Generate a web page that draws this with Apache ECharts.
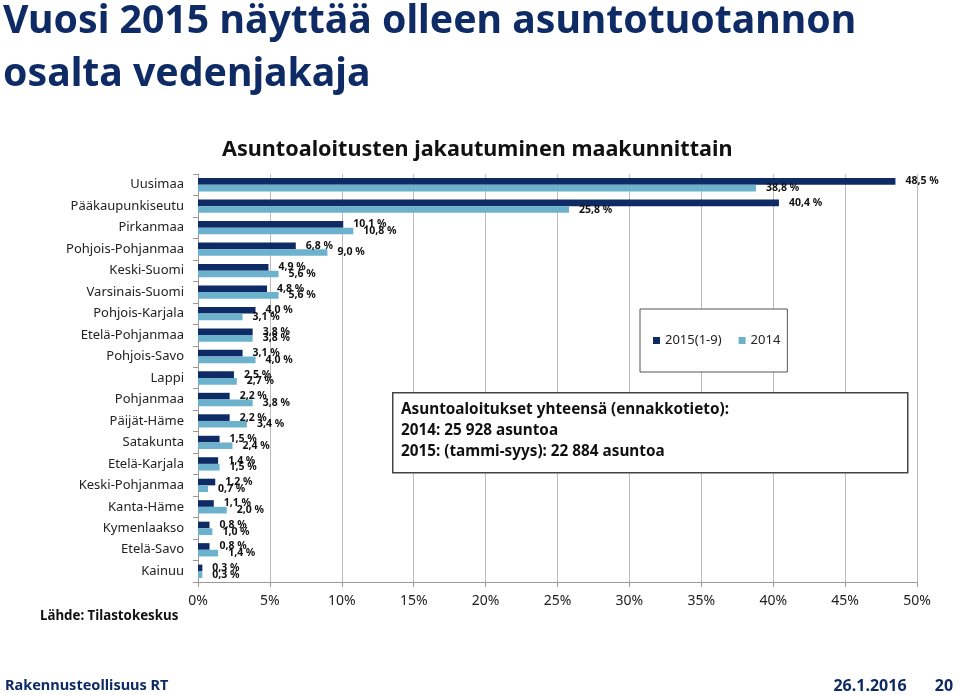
<!DOCTYPE html>
<html>
<head>
<meta charset="utf-8">
<script src="https://cdn.jsdelivr.net/npm/echarts@6/dist/echarts.min.js"></script>
<style>html,body{margin:0;padding:0;background:#fff}#c{width:960px;height:695px}</style>
</head>
<body>
<div id="c"></div>
<script>
var categories = ["Uusimaa","Pääkaupunkiseutu","Pirkanmaa","Pohjois-Pohjanmaa","Keski-Suomi","Varsinais-Suomi","Pohjois-Karjala","Etelä-Pohjanmaa","Pohjois-Savo","Lappi","Pohjanmaa","Päijät-Häme","Satakunta","Etelä-Karjala","Keski-Pohjanmaa","Kanta-Häme","Kymenlaakso","Etelä-Savo","Kainuu"];
var values2015 = [48.5,40.4,10.1,6.8,4.9,4.8,4.0,3.8,3.1,2.5,2.2,2.2,1.5,1.4,1.2,1.1,0.8,0.8,0.3];
var values2014 = [38.8,25.8,10.8,9.0,5.6,5.6,3.1,3.8,4.0,2.7,3.8,3.4,2.4,1.5,0.7,2.0,1.0,1.4,0.3];
var seriesNames = ["2015(1-9)","2014"];
var xTicks = {min:0, max:50, interval:5};

var navy = '#0f2b66', light = '#6cb2cd', font = 'Noto Sans';
function fmt(p){ return p.value.toFixed(1).replace('.', ',') + ' %'; }
var chart = echarts.init(document.getElementById('c'), null, {renderer:'canvas'});
chart.setOption({
  animation:false,
  textStyle:{fontFamily:font},
  grid:{left:198, right:43, top:174, bottom:113, containLabel:false},
  legend:{
    data:seriesNames, left:640, top:309, orient:'horizontal', z:50,
    padding:[25,7,25,13], itemWidth:7, itemHeight:7, itemGap:17,
    borderColor:'#555', borderWidth:1, backgroundColor:'#fff',
    textStyle:{fontFamily:font, fontSize:13, color:'#222'},
    icon:'rect'
  },
  xAxis:{type:'value', min:xTicks.min, max:xTicks.max, interval:xTicks.interval,
    axisLine:{show:true, lineStyle:{color:'#999'}},
    axisTick:{show:true, length:5, lineStyle:{color:'#999'}},
    splitLine:{show:true, lineStyle:{color:'#bbb', width:1}},
    axisLabel:{formatter:'{value}%', fontSize:14, color:'#222', margin:12, fontFamily:font}
  },
  yAxis:{type:'category', data:categories, inverse:true,
    axisLine:{show:true, lineStyle:{color:'#999'}},
    axisTick:{show:true, length:5, lineStyle:{color:'#999'}},
    axisLabel:{fontSize:13, color:'#222', margin:14, fontFamily:font}
  },
  series:[
    {name:seriesNames[0], type:'bar', data:values2015, barGap:'0%', barCategoryGap:'38%',
     itemStyle:{color:navy},
     label:{show:true, position:'right', distance:10, formatter:fmt, fontSize:10.5, fontWeight:'bold', color:'#111', fontFamily:font}},
    {name:seriesNames[1], type:'bar', data:values2014, barGap:'0%', barCategoryGap:'38%',
     itemStyle:{color:light},
     label:{show:true, position:'right', distance:10, formatter:fmt, fontSize:10.5, fontWeight:'bold', color:'#111', fontFamily:font}}
  ],
  graphic:[
    {type:'text', left:3, top:-5, z:100, style:{text:'Vuosi 2015 näyttää olleen asuntotuotannon\nosalta vedenjakaja', fill:navy, font:'bold 39.2px "Noto Sans"', lineHeight:53}},
    {type:'text', left:222, top:139, z:100, style:{text:'Asuntoaloitusten jakautuminen maakunnittain', fill:'#111', font:'bold 21.6px "Noto Sans"'}},
    {type:'rect', left:392, top:392, z:100, shape:{x:0,y:0,width:515,height:80}, style:{fill:'#fff', stroke:'#444', lineWidth:1.5}},
    {type:'text', left:401, top:399, z:101, style:{text:'Asuntoaloitukset yhteensä (ennakkotieto):\n2014: 25 928 asuntoa\n2015: (tammi-syys): 22 884 asuntoa', fill:'#111', font:'bold 15.3px "Noto Sans"', lineHeight:21}},
    {type:'text', left:40, top:610, z:100, style:{text:'Lähde: Tilastokeskus', fill:'#111', font:'bold 13.3px "Noto Sans"'}},
    {type:'text', left:5, top:678, z:100, style:{text:'Rakennusteollisuus RT', fill:navy, font:'bold 14.5px "Noto Sans"'}},
    {type:'text', x:870, y:678, z:100, style:{text:'26.1.2016', fill:navy, font:'bold 16px "Noto Sans"', align:'center'}},
    {type:'text', x:944, y:678, z:100, style:{text:'20', fill:navy, font:'bold 16px "Noto Sans"', align:'center'}}
  ]
});
</script>
</body>
</html>
